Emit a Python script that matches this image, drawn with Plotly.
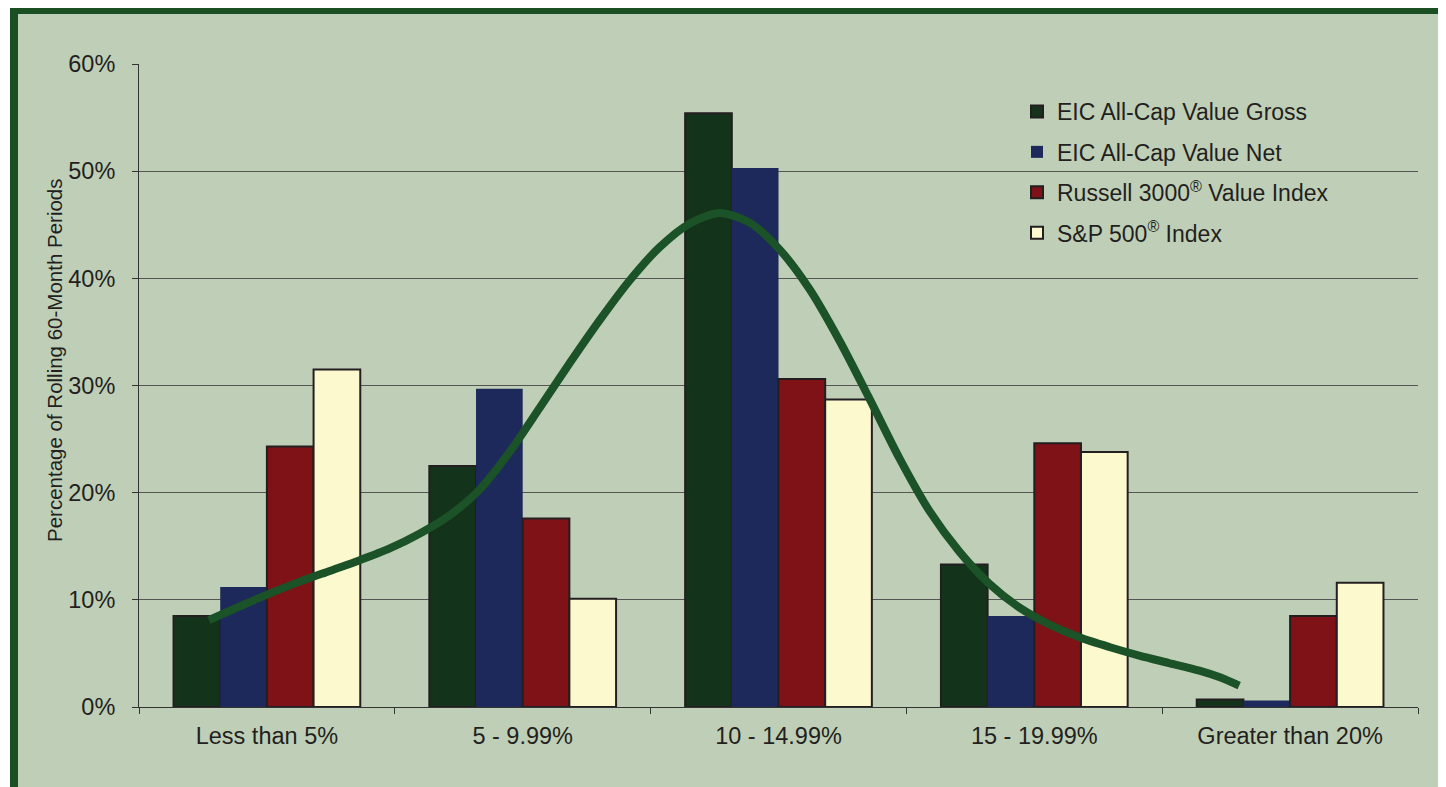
import plotly.graph_objects as go

# ---------------- data ----------------
categories = ["Less than 5%", "5 - 9.99%", "10 - 14.99%", "15 - 19.99%", "Greater than 20%"]
series_names = [
    "EIC All-Cap Value Gross",
    "EIC All-Cap Value Net",
    "Russell 3000<sup>®</sup> Value Index",
    "S&P 500<sup>®</sup> Index",
]
gross = [8.5, 22.5, 55.4, 13.3, 0.7]
net = [11.2, 29.7, 50.3, 8.5, 0.6]
russell = [24.3, 17.6, 30.6, 24.6, 8.5]
sp500 = [31.5, 10.1, 28.7, 23.8, 11.6]

# smoothed distribution curve (x in category units, y in %)
curve_x = [-0.227, -0.105, 0.012, 0.129, 0.246, 0.363, 0.480, 0.598, 0.715, 0.832,
           0.949, 1.066, 1.184, 1.301, 1.418, 1.535, 1.652, 1.770, 1.887, 2.004,
           2.121, 2.238, 2.355, 2.473, 2.590, 2.707, 2.824, 2.941, 3.059, 3.176,
           3.293, 3.410, 3.527, 3.645, 3.723, 3.801]
curve_y = [8.1, 9.4, 10.6, 11.7, 12.7, 13.7, 14.8, 16.2, 17.9, 20.3,
           23.8, 27.9, 32.1, 36.1, 39.8, 42.9, 45.1, 46.1, 45.2, 42.7,
           39.0, 34.2, 28.8, 23.2, 18.3, 14.5, 11.5, 9.3, 7.7, 6.5,
           5.6, 4.8, 4.1, 3.4, 2.8, 2.0]

y_tick_vals = [0, 10, 20, 30, 40, 50, 60]
y_tick_text = ["0%", "10%", "20%", "30%", "40%", "50%", "60%"]

# ---------------- styling ----------------
W, H = 1446, 787
OFF = 8  # page body margin offset of the figure
ML, MR, MT, MB = 131, 36, 56, 88
PW, PH = W - ML - MR, H - MT - MB

BG = "#BFCFB7"
BORDER = "#1A4F24"
TEXT = "#231F20"
FONT = "Liberation Sans, Arial, sans-serif"
colors = ["#13331A", "#1D285B", "#7E1216", "#FCF9CE"]
outline_w = [2, 0, 2, 2]


def px_x(px):
    """page pixel x -> paper coordinate"""
    return (px - OFF - ML) / PW


def px_y(py):
    """page pixel y -> paper coordinate"""
    return (H - MB - (py - OFF)) / PH


fig = go.Figure()
for name, vals, col, lw in zip(series_names, [gross, net, russell, sp500], colors, outline_w):
    fig.add_trace(go.Bar(
        x=categories, y=vals, name=name,
        marker=dict(color=col, line=dict(color=TEXT, width=lw)),
        legendgroup=name,
    ))

fig.add_trace(go.Scatter(
    x=curve_x, y=curve_y, xaxis="x2", mode="lines",
    line=dict(color="#1B5227", width=8, shape="spline", smoothing=0.8),
    showlegend=False, hoverinfo="skip",
))

shapes = []


def rect(x0, y0, x1, y1, color):
    shapes.append(dict(type="rect", xref="paper", yref="paper",
                       x0=px_x(x0), x1=px_x(x1), y0=px_y(y1), y1=px_y(y0),
                       fillcolor=color, line=dict(width=0), layer="above"))


rect(0, 0, 10, H + 20, "white")
rect(10, 0, W + 20, 14, BORDER)
rect(10, 0, 18, H + 20, BORDER)

fig.update_layout(
    width=W, height=H,
    margin=dict(l=ML, r=MR, t=MT, b=MB, pad=0),
    paper_bgcolor=BG, plot_bgcolor=BG,
    font=dict(family=FONT, size=23.5, color=TEXT),
    barmode="group", bargap=0.27, bargroupgap=0,
    showlegend=True,
    legend=dict(x=px_x(1017), y=px_y(90), xanchor="left", yanchor="top",
                bgcolor="rgba(0,0,0,0)", font=dict(size=23, color=TEXT),
                traceorder="grouped", tracegroupgap=7.5, itemclick=False),
    xaxis=dict(type="category", categoryorder="array", categoryarray=categories,
               tickson="boundaries", ticks="outside", ticklen=6, tickcolor="#333333",
               showline=True, linecolor="#333333", linewidth=1, showgrid=False,
               ticklabelstandoff=8, tickfont=dict(size=23.5)),
    xaxis2=dict(overlaying="x", range=[-0.5, 4.5], visible=False),
    yaxis=dict(range=[0, 60], tickmode="array", tickvals=y_tick_vals, ticktext=y_tick_text,
               showgrid=True, gridcolor="#555555", gridwidth=1,
               showline=True, linecolor="#333333", linewidth=1,
               ticks="outside", ticklen=6, tickcolor="#333333",
               ticklabelstandoff=12, zeroline=False, tickfont=dict(size=23.5)),
    shapes=shapes,
    annotations=[dict(text="Percentage of Rolling 60-Month Periods",
                      xref="paper", yref="paper", x=px_x(55), y=px_y(360),
                      xanchor="center", yanchor="middle", textangle=-90,
                      showarrow=False, font=dict(size=20.5, color=TEXT))],
)

fig.write_html("out.html")
